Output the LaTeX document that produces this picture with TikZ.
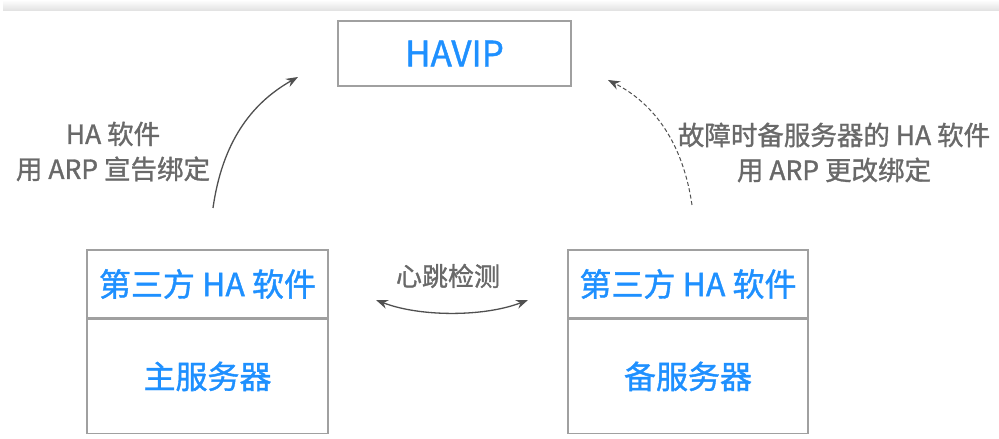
\documentclass[tikz,border=0pt]{standalone}
\usepackage{fontspec}
\setmainfont{Noto Sans CJK SC}[AutoFakeBold=1.2, BoldFont=Noto Sans CJK SC]
\usetikzlibrary{arrows.meta}
\definecolor{hablue}{RGB}{30,144,255}
\definecolor{txtgray}{RGB}{105,105,105}
\definecolor{boxgray}{RGB}{160,160,160}
\definecolor{arrgray}{RGB}{80,80,80}
\tikzset{
  x=1pt,y=1pt,
  box/.style={draw=boxgray, line width=1.4pt, fill=white, minimum width=#1, inner sep=0pt},
  bluetxt/.style={text=hablue, font=\fontsize{32}{36}\selectfont\bfseries},
  graytxt/.style={text=txtgray, font=\fontsize{26.5}{35}\selectfont\bfseries, align=center},
  conn/.style={draw=arrgray, line width=1.3pt, -{Stealth[length=12pt,width=9pt]}},
}
\begin{document}
\begin{tikzpicture}
\useasboundingbox (0,0) rectangle (999,439);
% top strip
\shade[top color=white, bottom color=black!12] (3,428) rectangle (999,439);
% HAVIP
\node[box=233pt, minimum height=65pt, text=hablue, font=\fontsize{35}{38}\selectfont\bfseries] (havip) at (454.5,385.5) {HAVIP};
% left server
\node[box=241pt, minimum height=68pt, bluetxt] (lsoft) at (207.5,155) {第三方 HA 软件};
\node[box=241pt, minimum height=114pt, bluetxt, anchor=north] (lsrv) at (lsoft.south) {主服务器};
% right server
\node[box=240pt, minimum height=68pt, bluetxt] (rsoft) at (688,155) {第三方 HA 软件};
\node[box=240pt, minimum height=114pt, bluetxt, anchor=north] (rsrv) at (rsoft.south) {备服务器};
% labels
\node[graytxt] (llab) at (113,287.5) {HA 软件\\用 ARP 宣告绑定};
\node[graytxt] (rlab) at (834,286.5) {故障时备服务器的 HA 软件\\用 ARP 更改绑定};
\node[graytxt, font=\fontsize{26}{30}\selectfont\bfseries] (hb) at (448,163) {心跳检测};
% connector endpoints
\coordinate (la) at (213,231);
\coordinate (lb) at (298,362);
\coordinate (ra) at (692,234);
\coordinate (rb) at (608,359);
\coordinate (ha) at (376,139);
\coordinate (hb2) at (528,139);
\draw[conn] (la) .. controls (222,295) and (250,335) .. (lb);
\draw[conn, line width=1pt, dash pattern=on 4pt off 2.5pt] (ra) .. controls (683,295) and (655,335) .. (rb);
\draw[conn, {Stealth[length=12pt,width=9pt]}-{Stealth[length=12pt,width=9pt]}] (ha) .. controls (420,122) and (484,122) .. (hb2);
\end{tikzpicture}
\end{document}
